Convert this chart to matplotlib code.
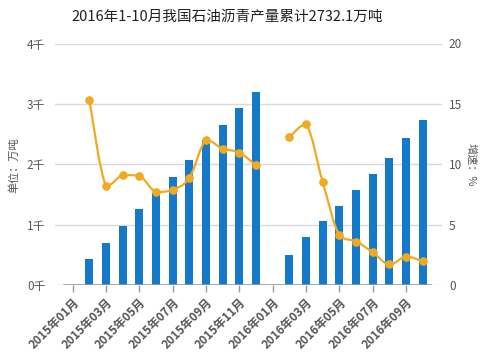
import numpy as np
import matplotlib
matplotlib.use("Agg")
from matplotlib import pyplot as plt
from matplotlib.path import Path
from matplotlib.patches import PathPatch

plt.rcParams['font.family'] = ['Noto Sans CJK SC', 'DejaVu Sans']

months = ["2015年01月", "2015年02月", "2015年03月", "2015年04月", "2015年05月", "2015年06月",
          "2015年07月", "2015年08月", "2015年09月", "2015年10月", "2015年11月", "2015年12月",
          "2016年01月", "2016年02月", "2016年03月", "2016年04月", "2016年05月", "2016年06月",
          "2016年07月", "2016年08月", "2016年09月", "2016年10月"]
# 累计产量（万吨）
output = [np.nan, 431, 697, 978, 1260, 1519, 1790, 2072, 2398, 2652, 2934, 3199,
          np.nan, 497, 796, 1061, 1309, 1575, 1840, 2105, 2436, 2732.1]
# 增速（%）
growth = [np.nan, 15.3, 8.2, 9.1, 9.05, 7.7, 7.9, 8.9, 12.0, 11.3, 10.95, 9.9,
          np.nan, 12.25, 13.3, 8.5, 4.1, 3.6, 2.7, 1.7, 2.35, 1.95]

bar_color = "#1479C8"
line_color = "#F2A922"
txt = "#555555"

fig = plt.figure(figsize=(4.92, 3.52), dpi=100)
ax = fig.add_axes([55 / 492, 1 - 285 / 352, 387 / 492, 241.5 / 352])
ax2 = ax.twinx()

x = np.arange(len(months))
ax.bar(x, output, width=0.48, color=bar_color, zorder=3)

ax.set_xlim(-1.06, 22.15)
ax.set_ylim(0, 4000)
ax2.set_ylim(0, 20)

for s in ["top", "bottom", "left", "right"]:
    ax.spines[s].set_visible(False)
    ax2.spines[s].set_visible(False)

ax.set_yticks([0, 1000, 2000, 3000, 4000])
ax.set_yticklabels(["0千", "1千", "2千", "3千", "4千"])
ax.yaxis.grid(True, color="#d9d9d9", lw=1)
ax.set_axisbelow(True)
ax.tick_params(axis="y", length=0, pad=7, labelsize=8.5, labelcolor=txt)

ax2.set_yticks([0, 5, 10, 15, 20])
ax2.tick_params(axis="y", length=0, pad=5, labelsize=8.5, labelcolor=txt)

# x axis line
ax.axhline(0, xmin=(-0.5 + 1.06) / 23.21, xmax=(21.5 + 1.06) / 23.21, color="#9a9a9a", lw=1.2, zorder=4)
ax.set_xticks(x[::2])
ax.set_xticklabels(months[::2], rotation=45, ha="right", rotation_mode="anchor",
                   fontsize=8.5, fontweight="bold", color=txt)
ax.tick_params(axis="x", length=5, color="#9a9a9a", width=1, pad=3)


def smooth_path(xs, ys, s=0.2):
    verts = [(xs[0], ys[0])]
    codes = [Path.MOVETO]
    n = len(xs)
    for i in range(n - 1):
        x0, y0 = (xs[i - 1], ys[i - 1]) if i > 0 else (xs[i], ys[i])
        x3, y3 = (xs[i + 2], ys[i + 2]) if i + 2 < n else (xs[i + 1], ys[i + 1])
        lo, hi = min(ys[i], ys[i + 1]), max(ys[i], ys[i + 1])
        c1 = (xs[i] + (xs[i + 1] - x0) * s, np.clip(ys[i] + (ys[i + 1] - y0) * s, lo, hi))
        c2 = (xs[i + 1] - (x3 - xs[i]) * s, np.clip(ys[i + 1] - (y3 - ys[i]) * s, lo, hi))
        verts += [c1, c2, (xs[i + 1], ys[i + 1])]
        codes += [Path.CURVE4] * 3
    return Path(verts, codes)


g = np.array(growth)
for seg in [slice(1, 12), slice(13, 22)]:
    xs, ys = x[seg], g[seg]
    patch = PathPatch(smooth_path(xs, ys), facecolor="none", edgecolor=line_color,
                      lw=1.6, transform=ax2.transData, zorder=5)
    ax2.add_patch(patch)
ax2.plot(x, g, ls="none", marker="o", ms=5.2, color=line_color, zorder=6)

fig.text(14 / 492, 1 - 165 / 352, "单位：万吨", rotation=90, ha="center", va="center",
         fontsize=8, color=txt)
fig.text(471 / 492, 1 - 165 / 352, "增速：%", rotation=-90, ha="center", va="center",
         fontsize=8, color=txt)
fig.text(227 / 492, 1 - 17 / 352, "2016年1-10月我国石油沥青产量累计2732.1万吨",
         ha="center", va="center", fontsize=10.5, color="#222222", fontweight="light")

fig.savefig("out.png", dpi=100)
